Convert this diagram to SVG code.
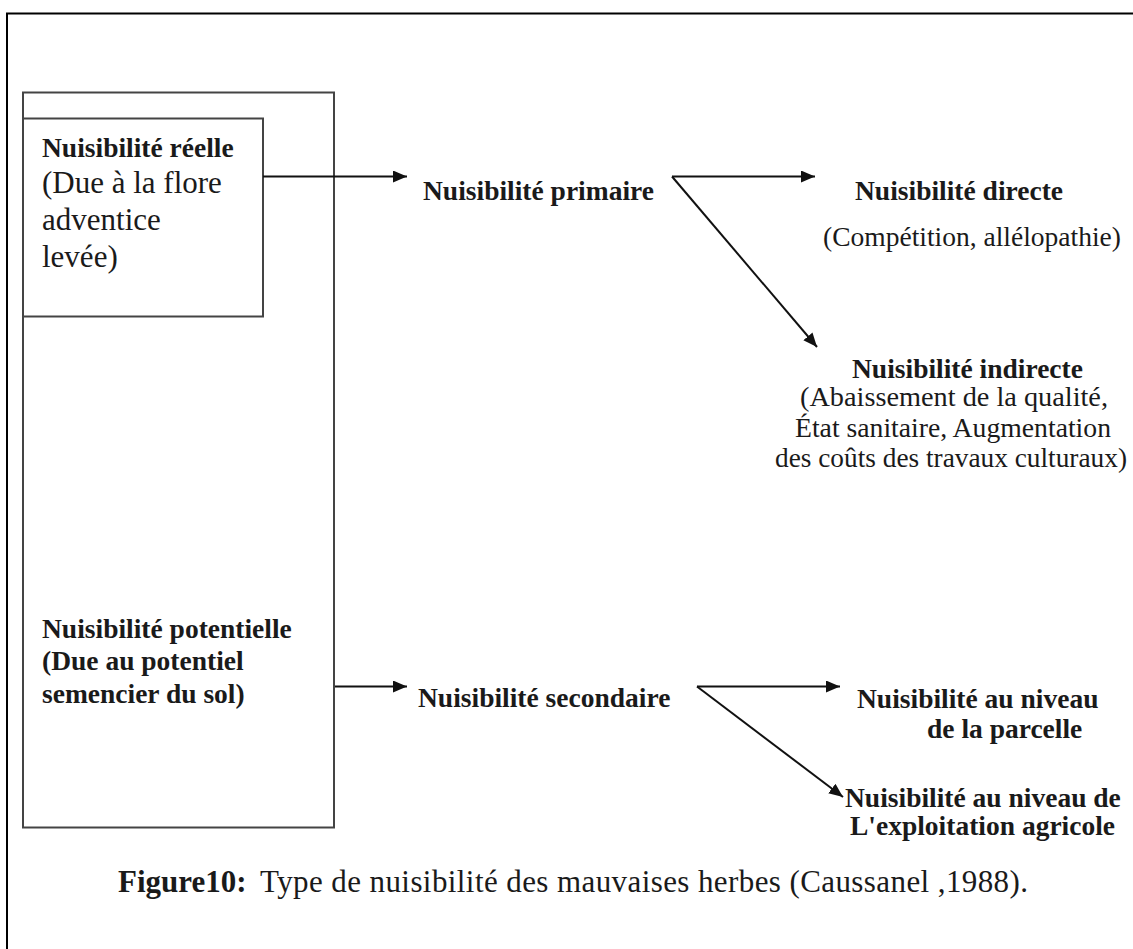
<svg xmlns="http://www.w3.org/2000/svg" width="1133" height="949" viewBox="0 0 1133 949">
<defs>
<style>
.t{font-family:"Liberation Serif","Times New Roman",serif;fill:#1a1a1a}
.b{font-weight:bold;font-size:27.5px}
.r{font-size:27.5px}
.rb{font-size:31px}
.box{fill:none;stroke:#444;stroke-width:2}
.ln{fill:none;stroke:#111;stroke-width:2}
</style>
<marker id="ah" markerUnits="userSpaceOnUse" markerWidth="15" markerHeight="13" refX="14" refY="6" orient="auto">
<path d="M0,0 L14,6 L0,12 z" fill="#111"/>
</marker>
</defs>
<rect width="1133" height="949" fill="#fff"/>
<g id="frame">
<path d="M7,949 V13.5 H1133" fill="none" stroke="#000" stroke-width="2"/>
</g>
<g id="outer-box">
<rect class="box" x="23" y="92.5" width="311" height="735"/>
</g>
<g id="node-reelle">
<rect class="box" x="23" y="118.5" width="240" height="198"/>
<text class="t b" x="42" y="157">Nuisibilité réelle</text>
<text class="t rb" x="42" y="193">(Due à la flore</text>
<text class="t rb" x="42" y="230">adventice</text>
<text class="t rb" x="42" y="267">levée)</text>
</g>
<g id="node-potentielle">
<text class="t b" x="42" y="638">Nuisibilité potentielle</text>
<text class="t b" x="42" y="670">(Due au potentiel</text>
<text class="t b" x="42" y="703">semencier du sol)</text>
</g>
<g id="node-primaire">
<text class="t b" x="423" y="200">Nuisibilité primaire</text>
</g>
<g id="node-directe">
<text class="t b" x="855" y="200">Nuisibilité directe</text>
<text class="t r" x="823" y="246" textLength="298" lengthAdjust="spacingAndGlyphs">(Compétition, allélopathie)</text>
</g>
<g id="node-indirecte">
<text class="t b" x="852" y="378">Nuisibilité indirecte</text>
<text class="t r" x="800" y="406" textLength="308" lengthAdjust="spacingAndGlyphs">(Abaissement de la qualité,</text>
<text class="t r" x="795" y="437" textLength="316" lengthAdjust="spacingAndGlyphs">État sanitaire, Augmentation</text>
<text class="t r" x="775" y="467" textLength="352" lengthAdjust="spacingAndGlyphs">des coûts des travaux culturaux)</text>
</g>
<g id="node-secondaire">
<text class="t b" x="418" y="707">Nuisibilité secondaire</text>
</g>
<g id="node-parcelle">
<text class="t b" x="857" y="708">Nuisibilité au niveau</text>
<text class="t b" x="927" y="738">de la parcelle</text>
</g>
<g id="node-exploitation">
<text class="t b" x="845" y="807">Nuisibilité au niveau de</text>
<text class="t b" x="850" y="835">L'exploitation agricole</text>
</g>
<g id="connectors">
<path class="ln" d="M263,176.5 H407" marker-end="url(#ah)"/>
<path class="ln" d="M335,686.5 H407" marker-end="url(#ah)"/>
<path class="ln" d="M672,176.5 H815" marker-end="url(#ah)"/>
<path class="ln" d="M672,176.5 L817,347" marker-end="url(#ah)"/>
<path class="ln" d="M697,686.5 H840" marker-end="url(#ah)"/>
<path class="ln" d="M697,686.5 L843,797" marker-end="url(#ah)"/>
</g>
<g id="caption">
<text class="t" x="118" y="892" font-size="31" font-weight="bold" fill="#000">Figure10:</text>
<text class="t" x="260" y="892" font-size="31" fill="#000" textLength="768" lengthAdjust="spacing">Type de nuisibilité des mauvaises herbes (Caussanel ,1988).</text>
</g>
</svg>
